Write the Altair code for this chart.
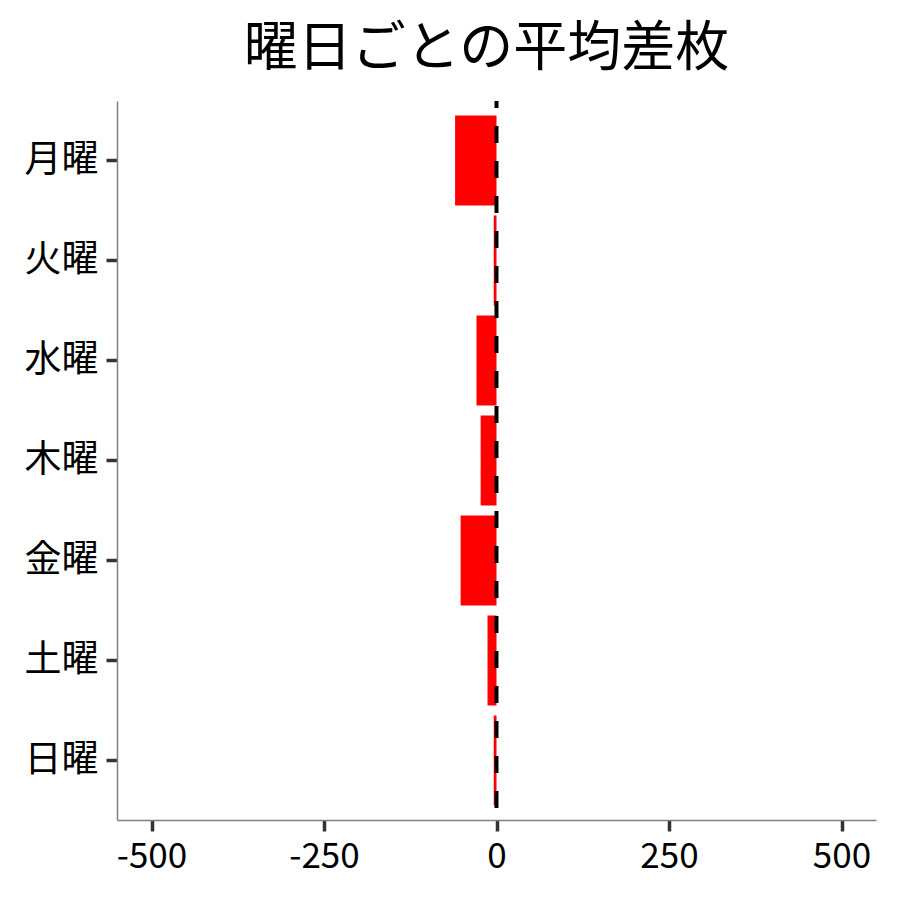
import altair as alt
import pandas as pd

days = ["月曜", "火曜", "水曜", "木曜", "金曜", "土曜", "日曜"]
avg_diff = [-60, -4, -29, -23, -52, -13, -4]
x_ticks = [-500, -250, 0, 250, 500]

df = pd.DataFrame({"day": days, "diff": avg_diff})
zero = pd.DataFrame({"x": [0]})

FONT = "Noto Sans CJK JP"

bars = alt.Chart(df).mark_bar(color="#FF0000").encode(
    x=alt.X("diff:Q", scale=alt.Scale(domain=[-550, 550], nice=False),
            axis=alt.Axis(values=x_ticks, title=None, grid=False,
                          labelExpr="'' + datum.value", labelFontSize=35)),
    y=alt.Y("day:N", sort=days,
            scale=alt.Scale(paddingInner=0.1, paddingOuter=0.145),
            axis=alt.Axis(title=None, grid=False, labelFontSize=37)),
)

rule = alt.Chart(zero).mark_rule(
    color="black", strokeWidth=4, strokeDash=[17, 18], strokeDashOffset=10
).encode(x="x:Q")

chart = alt.layer(bars, rule).properties(
    width=759,
    height=719,
    title=alt.TitleParams("曜日ごとの平均差枚", font=FONT, fontSize=54,
                          fontWeight="normal", color="black", anchor="middle",
                          offset=22, dx=-10),
    autosize=alt.AutoSizeParams(type="none"),
    padding={"left": 109, "top": 93, "right": 16, "bottom": 70},
).configure_view(stroke=None).configure_axis(
    labelFont=FONT, labelColor="black",
    domainColor="#808080", domainWidth=1.5,
    tickColor="#333333", tickWidth=3.5, tickSize=11,
    labelPadding=8,
)

chart.save("out.html", embed_options={"renderer": "svg", "actions": False})
